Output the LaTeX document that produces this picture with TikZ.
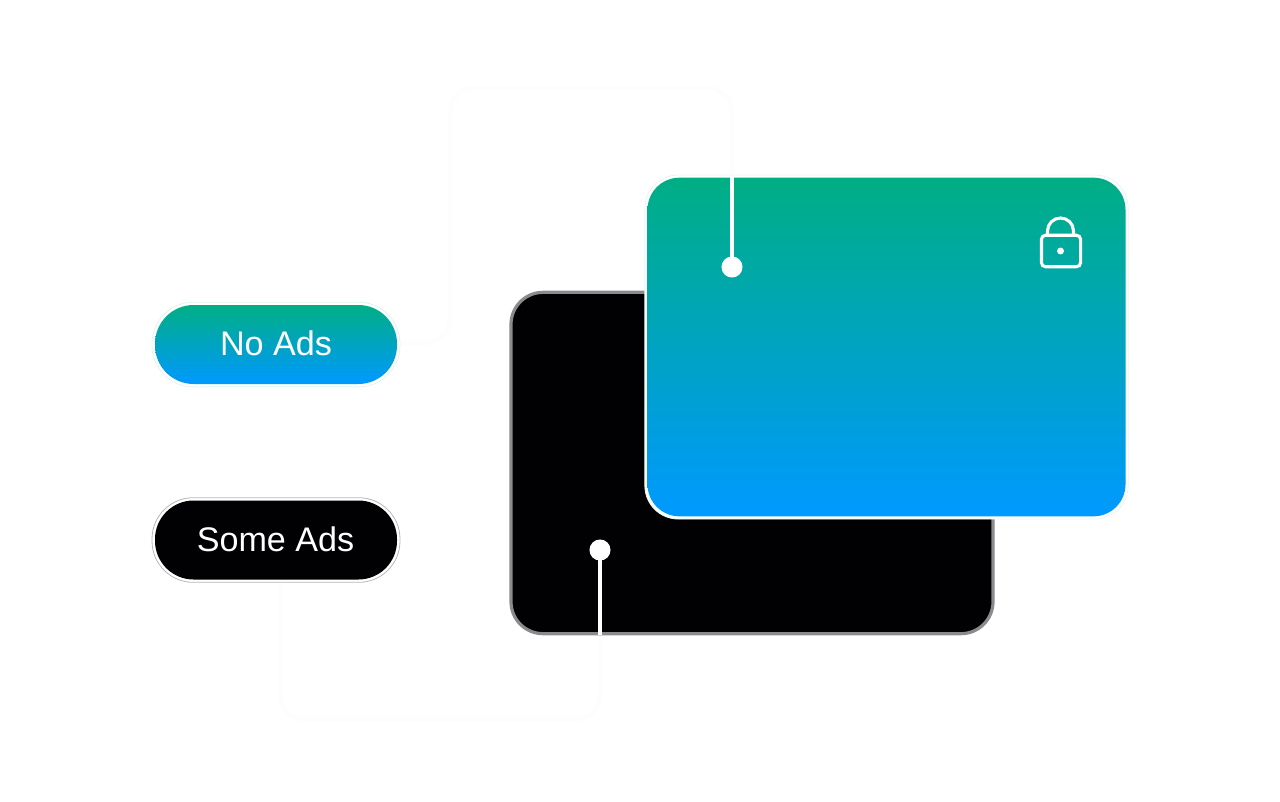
\documentclass[tikz,border=0pt]{standalone}
\usepackage{fontspec}
\setmainfont{Liberation Sans}
\definecolor{tealtop}{HTML}{00AE84}
\definecolor{bluebot}{HTML}{0099FF}
\definecolor{paleline}{HTML}{FDFDFD}
\definecolor{cardedge}{HTML}{8C8A8E}
\definecolor{nearblack}{HTML}{010003}
\tikzset{
  x=0.75pt,y=-0.75pt,
  pillouter/.style={rounded corners=31pt,minimum width=186pt,minimum height=63.5pt,inner sep=0pt,line width=0.6pt,anchor=center,fill=white},
  pillbox/.style={rounded corners=29pt,minimum width=181.5pt,minimum height=59.25pt,inner sep=0pt,draw=none,anchor=center},
  pilltext/.style={text=white,inner sep=0pt,font=\fontsize{25.6pt}{28pt}\selectfont},
  cardbox/.style={rounded corners=24pt,minimum width=360.5pt,minimum height=256pt,inner sep=0pt,anchor=center},
  dotmark/.style={circle,fill=white,draw=none,minimum size=15.8pt,inner sep=0pt},
  faint/.style={draw=paleline,line width=3pt,rounded corners=18pt},
  wire/.style={draw=white,line width=3.6pt},
  lockline/.style={draw=white,line width=2.3pt,rounded corners=3pt},
}
\begin{document}
\begin{tikzpicture}
\useasboundingbox (0,0) rectangle (1280,801);
\fill[white] (0,0) rectangle (1280,801);
% pale connectors
\coordinate (nocorner) at (450,343);
\coordinate (notopl) at (450,88);
\coordinate (notopr) at (732,88);
\coordinate (somecorner) at (280,719);
\coordinate (somecornerr) at (600,719);
\coordinate (somestart) at (280,582);
\coordinate (nostart) at (400,343);
\node[dotmark] (dotblack) at (600,550) {};
\node[dotmark] (dotteal) at (732,267) {};
\draw[faint] (nostart) -- (nocorner) -- (notopl) -- (notopr) -- (dotteal.north);
\draw[faint] (somestart) -- (somecorner) -- (somecornerr) -- (dotblack.south);
% pills
\node[pillouter,draw=tealtop!12!white] (noadsout) at (276,344.5) {};
\node[pillbox,top color=tealtop,bottom color=bluebot] (noads) at (276,344.5) {};
\node[pilltext] (noadstext) at (276,343.5) {No Ads};
\node[pillouter,draw=black!28] (someadsout) at (276,540) {};
\node[pillbox,fill=nearblack] (someads) at (276,540) {};
\node[pilltext] (someadstext) at (275.5,539) {Some Ads};
% cards
\node[cardbox,fill=nearblack,draw=cardedge,line width=2.4pt,minimum width=361.5pt] (blackcard) at (752,463) {};
\coordinate (blackbase) at (blackcard.south -| dotblack);
\draw[wire] (dotblack.center) -- (blackbase);
\node[dotmark] (dotblacktop) at (dotblack) {};
\node[cardbox,fill=white,draw=tealtop!10!white,line width=0.6pt,minimum width=362.5pt,minimum height=258pt,rounded corners=25pt] (tealrim) at (886.5,347) {};
\node[cardbox,top color=tealtop,bottom color=bluebot,minimum width=358.5pt,minimum height=254pt] (tealcard) at (886.5,347) {};
\coordinate (tealbase) at (tealcard.north -| dotteal);
\draw[wire] (tealbase) -- (dotteal.center);
\node[dotmark] (dottealtop) at (dotteal) {};
% lock
\node[lockline,draw,minimum width=29.3pt,minimum height=23.6pt,inner sep=0pt] (lockbody) at (1061,251) {};
\draw[draw=white,line width=2.3pt] (1047.5,235) -- (1047.5,231) arc[start angle=180,end angle=360,radius=13] -- (1073.5,235);
\node[circle,fill=white,minimum size=5.2pt,inner sep=0pt] (lockdot) at (1060.5,251) {};
\end{tikzpicture}
\end{document}
